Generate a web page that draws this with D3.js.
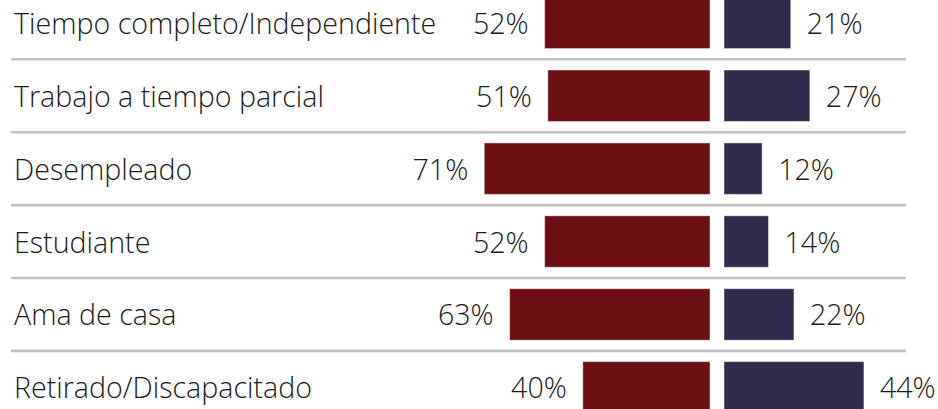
<!DOCTYPE html>
<html><head><meta charset="utf-8">
<script src="https://cdn.jsdelivr.net/npm/d3@7"></script>
<style>body{margin:0;background:#fff}svg{display:block}</style>
</head><body>
<script>
const categories = ["Tiempo completo/Independiente","Trabajo a tiempo parcial","Desempleado","Estudiante","Ama de casa","Retirado/Discapacitado"];
const leftValues = [52,51,71,52,63,40];
const rightValues = [21,27,12,14,22,44];
const W = 938, H = 409;
const font = "'Open Sans', sans-serif";
const svg = d3.select("body").append("svg").attr("width",W).attr("height",H);

const y = d3.scaleBand().domain(categories).range([-13.6, 423.8]).paddingInner(0.294).paddingOuter(0.147);
const xL = d3.scaleLinear().domain([0,100]).range([710, 710-318]);
const xR = d3.scaleLinear().domain([0,100]).range([724, 724+318]);
const step = y.step(), bw = y.bandwidth();

svg.selectAll("line.sep").data(categories.slice(0,-1)).join("line")
  .attr("x1",11).attr("x2",906)
  .attr("y1",d=>y(d)+bw+(step-bw)/2).attr("y2",d=>y(d)+bw+(step-bw)/2)
  .attr("stroke","#c0c0c0").attr("stroke-width",2.6);

const rows = categories.map((c,i)=>({c, l:leftValues[i], r:rightValues[i]}));

svg.selectAll("rect.l").data(rows).join("rect")
  .attr("x",d=>xL(d.l)).attr("width",d=>xL(0)-xL(d.l))
  .attr("y",d=>y(d.c)).attr("height",bw)
  .attr("fill","#6b0f12").attr("stroke","rgba(255,255,255,0.45)").attr("stroke-width",1);
svg.selectAll("rect.r").data(rows).join("rect")
  .attr("x",xR(0)).attr("width",d=>xR(d.r)-xR(0))
  .attr("y",d=>y(d.c)).attr("height",bw)
  .attr("fill","#312a4a").attr("stroke","rgba(255,255,255,0.45)").attr("stroke-width",1);

const fs = 28.6;
svg.selectAll("text.cat").data(rows).join("text")
  .attr("x",14).attr("y",d=>y(d.c)+bw/2+11)
  .attr("font-family",font).attr("font-weight",300).attr("font-size",fs).attr("fill","#1a1a1a")
  .text(d=>d.c);
svg.selectAll("text.lv").data(rows).join("text")
  .attr("x",d=>xL(d.l)-16).attr("y",d=>y(d.c)+bw/2+11).attr("text-anchor","end")
  .attr("font-family",font).attr("font-weight",300).attr("font-size",fs).attr("fill","#1a1a1a")
  .text(d=>d.l+"%");
svg.selectAll("text.rv").data(rows).join("text")
  .attr("x",d=>xR(d.r)+16).attr("y",d=>y(d.c)+bw/2+11)
  .attr("font-family",font).attr("font-weight",300).attr("font-size",fs).attr("fill","#1a1a1a")
  .text(d=>d.r+"%");
</script>
</body></html>
